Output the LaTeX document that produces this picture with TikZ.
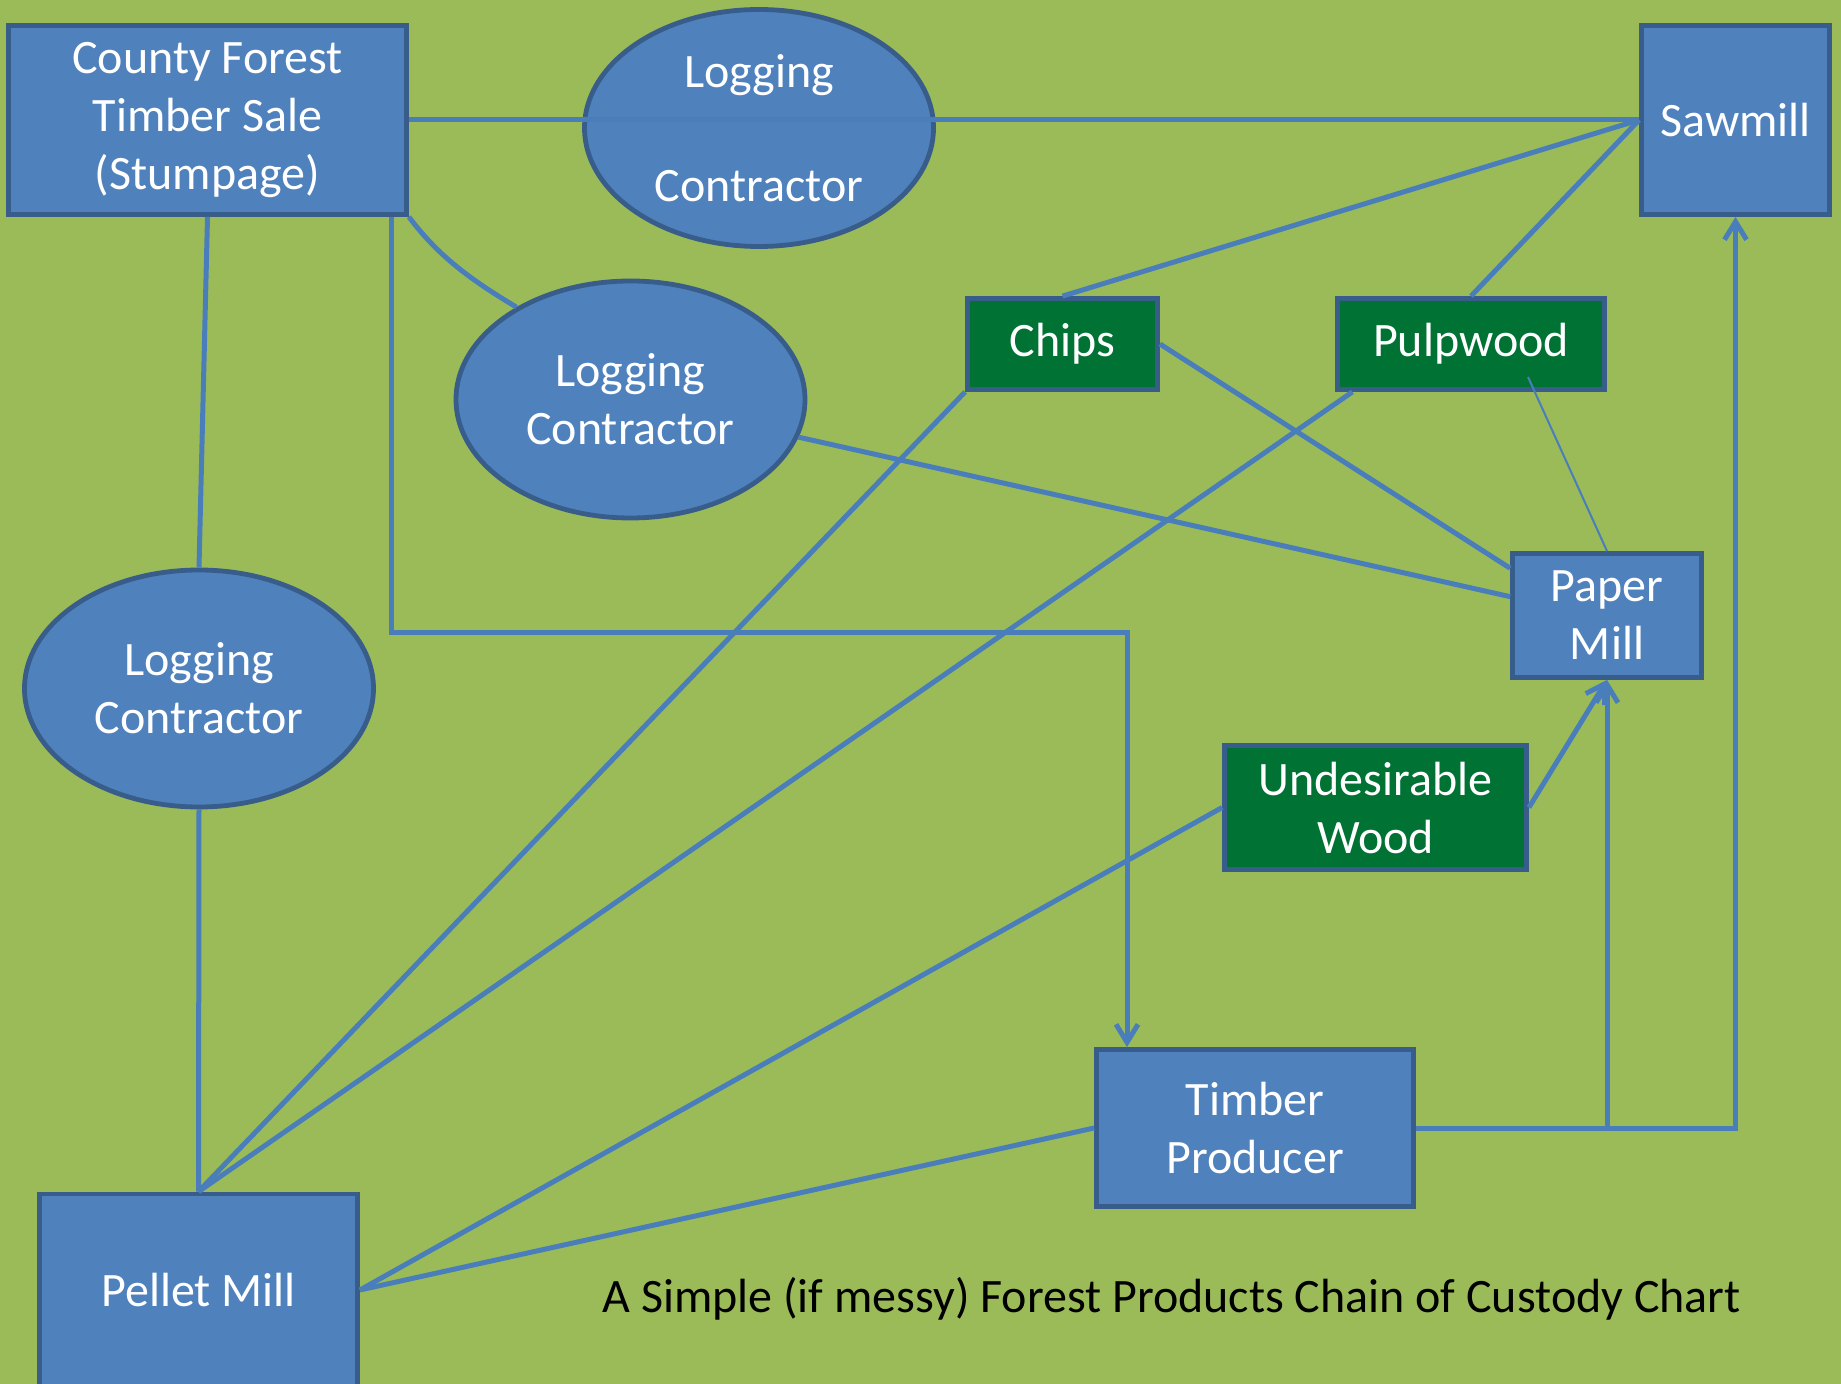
\documentclass[tikz,border=0pt]{standalone}
\usepackage{fontspec}
\setmainfont{Carlito}
\usetikzlibrary{arrows.meta,shapes.geometric}
\definecolor{fond}{RGB}{155,187,89}
\definecolor{bleu}{RGB}{79,129,189}
\definecolor{bord}{RGB}{56,93,138}
\definecolor{trait}{RGB}{74,126,187}
\definecolor{vert}{RGB}{0,114,51}
\tikzset{
  boite/.style={draw=bord,line width=2.4pt,fill=bleu,text=white,align=center,inner sep=0pt,font=\fontsize{24}{29}\selectfont},
  ovale/.style={boite,ellipse},
  produit/.style={boite,fill=vert},
  lien/.style={draw=trait,line width=2.5pt},
  fleche/.style={lien,-{Straight Barb[length=9pt,width=11pt]}},
}
\begin{document}
\begin{tikzpicture}[x=0.5pt,y=-0.5pt]
    \useasboundingbox (0,0) rectangle (1841,1384);
    \fill[fond] (0,0) rectangle (1841,1384);
    \clip (0,0) rectangle (1841,1384);

    % Boites
    \node[boite,minimum width=199pt,minimum height=94.5pt] (cf) at (207.5,120) {County Forest\\Timber Sale\\(Stumpage)};
    \node[boite,minimum width=94pt,minimum height=94.5pt] (sw) at (1735.5,120) {Sawmill};
    \node[boite,minimum width=94.5pt,minimum height=62pt] (pm) at (1607,615.5) {Paper\\Mill};
    \node[boite,minimum width=158.5pt,minimum height=78.5pt] (tp) at (1255,1128) {Timber\\Producer};
    \node[boite,minimum width=159pt,minimum height=96pt] (pellet) at (198.5,1290) {Pellet Mill};

    % Produits
    \node[produit,minimum width=95pt,minimum height=45.5pt] (chips) at (1062.5,344) {Chips};
    \node[produit,minimum width=133.5pt,minimum height=45.5pt] (pw) at (1471,344) {Pulpwood};
    \node[produit,minimum width=151pt,minimum height=62pt] (uw) at (1375.5,807.5) {Undesirable\\Wood};

    % Ovales
    \node[ovale,minimum width=174.5pt,minimum height=118.5pt] (lc1) at (759,128) {Logging\\[28pt]Contractor};
    \node[ovale,minimum width=174.5pt,minimum height=118.5pt] (lc2) at (630.5,399.5) {Logging\\Contractor};
    \node[ovale,minimum width=174.5pt,minimum height=118.5pt] (lc3) at (199,688.5) {Logging\\Contractor};

    \node[anchor=base west,inner sep=0pt,font=\fontsize{24}{29}\selectfont] (titre) at (602,1312) {A Simple (if messy) Forest Products Chain of Custody Chart};

    % Liens
    \coordinate (coude) at (1127,633);
    \coordinate (pwin) at (1528,377);
    \draw[lien] (cf.east) -- (sw.west);
    \draw[lien] (cf.south east) .. controls +(30,40) and +(-45,-27) .. (lc2.141);
    \draw[lien] (cf.south) -- (lc3.north);
    \draw[lien] (lc3.south) -- (pellet.north);
    \draw[fleche] (391,0 |- cf.south) |- (coude) -- (coude |- tp.north);
    \draw[lien] (lc2) -- (pm.169);
    \draw[lien] (chips.north) -- (sw.west);
    \draw[lien] (pw.north) -- (sw.west);
    \draw[lien] (chips.east) -- (pm.154);
    \draw[lien,line width=1pt] (pwin) -- (pm.north);
    \draw[lien] (chips.south west) -- (pellet.north);
    \draw[lien] (pw.202) -- (pellet.north);
    \draw[lien] (uw.west) -- (pellet.east);
    \draw[lien] (tp.west) -- (pellet.east);

    % Fleches
    \draw[fleche] (uw.east) -- (pm.south);
    \draw[fleche] (tp.east) -| (sw.south);
    \draw[fleche] (tp.east -| pm.south) -- (pm.south);
\end{tikzpicture}
\end{document}
